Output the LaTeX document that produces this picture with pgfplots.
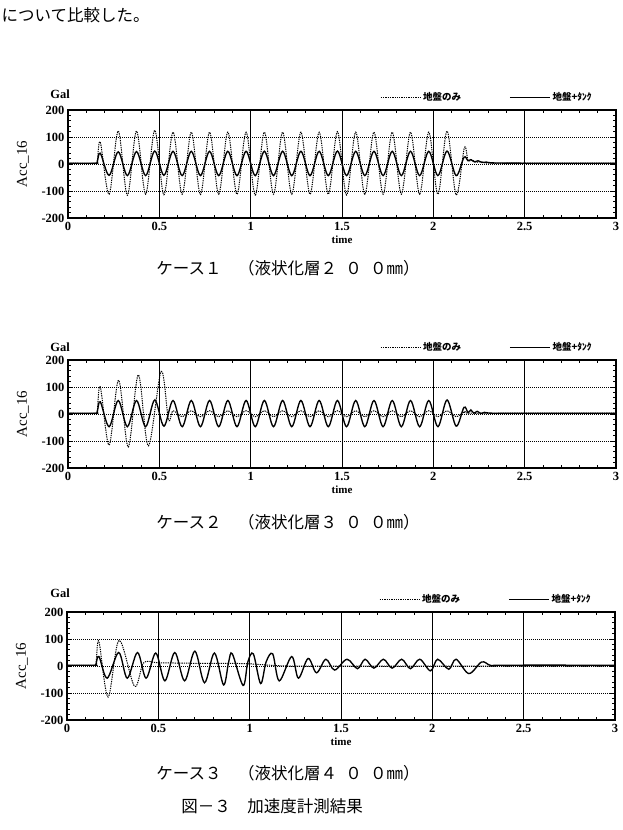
\documentclass[border=0pt]{standalone}
\usepackage{fontspec}
\setmainfont{Liberation Serif}
\newfontfamily\jp{Noto Sans CJK JP}
\usepackage{pgfplots}
\pgfplotsset{compat=1.18}
\pgfplotsset{
  myaxis/.style={
    scale only axis, width=548pt, height=108pt,
    xmin=0, xmax=3, ymin=-200, ymax=200,
    xtick={0,0.5,1,1.5,2,2.5,3}, xticklabels={0,0.5,1,1.5,2,2.5,3},
    ytick={-200,-100,0,100,200}, yticklabels={-200,-100,0,100,200},
    minor x tick num=4, minor y tick num=4,
    tick align=inside, tick pos=both,
    major tick length=5pt, minor tick length=3pt,
    xmajorgrids, ymajorgrids,
    x grid style={black, line width=1pt},
    y grid style={black, dash pattern=on 0.9pt off 1.1pt, line width=0.7pt},
    axis line style={line width=1.1pt},
    tick style={black, line width=0.8pt},
    tick label style={font=\bfseries\fontsize{12.5}{12.5}\selectfont},
    xticklabel style={yshift=-1pt},
    xlabel={time}, xlabel style={font=\bfseries\fontsize{11}{11}\selectfont, yshift=2pt},
    ylabel={Acc\_16}, ylabel style={font=\fontsize{15}{15}\selectfont, yshift=6pt},
    legend style={draw=none, fill=none, at={(0.965,1.035)}, anchor=south east, legend columns=2,
      font=\jp\bfseries\fontsize{9.5}{9.5}\selectfont,
      /tikz/every even column/.append style={column sep=46pt}},
    legend image code/.code={\draw[##1, smooth=false] (0pt,0pt) -- (40pt,0pt);},
  },
  dotser/.style={black, line width=1pt, dash pattern=on 1.3pt off 1pt, smooth, tension=0.55},
  solser/.style={black, line width=1.35pt, smooth, tension=0.55},
}
\begin{document}
\begin{tikzpicture}
\useasboundingbox (0,0) rectangle (623pt,830pt);
\node[anchor=west, font=\jp\fontsize{16.5}{16.5}\selectfont] at (-2pt,815pt) {について比較した。};

% ---------- Case 1 ----------
\begin{axis}[myaxis, at={(68pt,612pt)}, anchor=south west]
\addplot[dotser] coordinates {(0,3)(0.15,3)(0.16,8)(0.177,80)(0.225,-112)(0.275,122)(0.325,-116)(0.375,122)(0.425,-112)(0.475,125)(0.525,-114)(0.575,118)(0.625,-112)(0.675,118)(0.725,-113)(0.775,118)(0.825,-112)(0.875,118)(0.925,-112)(0.975,118)(1.025,-115)(1.075,118)(1.125,-112)(1.175,118)(1.225,-112)(1.275,118)(1.325,-112)(1.375,118)(1.425,-112)(1.475,120)(1.525,-115)(1.575,118)(1.625,-112)(1.675,118)(1.725,-112)(1.775,118)(1.825,-112)(1.875,118)(1.925,-112)(1.975,118)(2.025,-112)(2.075,122)(2.125,-115)(2.17,60)(2.19,12)(2.21,16)(2.235,6)(2.26,9)(2.3,3)(2.5,3)(3,3)};
\addlegendentry{地盤のみ}
\addplot[solser] coordinates {(0,3)(0.15,3)(0.16,8)(0.177,40)(0.225,-42)(0.275,45)(0.325,-43)(0.375,46)(0.425,-43)(0.475,48)(0.525,-42)(0.575,47)(0.625,-43)(0.675,47)(0.725,-43)(0.775,47)(0.825,-43)(0.875,47)(0.925,-43)(0.975,47)(1.025,-43)(1.075,47)(1.125,-43)(1.175,47)(1.225,-43)(1.275,47)(1.325,-43)(1.375,47)(1.425,-43)(1.475,48)(1.525,-43)(1.575,47)(1.625,-43)(1.675,47)(1.725,-43)(1.775,47)(1.825,-43)(1.875,47)(1.925,-43)(1.975,47)(2.025,-43)(2.075,48)(2.125,-43)(2.168,25)(2.19,12)(2.205,16)(2.225,8)(2.245,12)(2.265,6)(2.29,7)(2.33,4)(2.5,3)(3,3)};
\addlegendentry{地盤+ﾀﾝｸ}
\end{axis}
\node[font=\bfseries\fontsize{12.5}{12.5}\selectfont] at (60pt,736pt) {Gal};
\node[font=\jp\fontsize{16.5}{16.5}\selectfont] at (288pt,562pt) {ケース１\hspace{1em}（液状化層２\hspace{0.5em}０\hspace{0.5em}０㎜）};

% ---------- Case 2 ----------
\begin{axis}[myaxis, at={(68pt,362pt)}, anchor=south west]
\addplot[dotser] coordinates {(0,3)(0.15,3)(0.16,10)(0.177,100)(0.225,-115)(0.277,125)(0.33,-122)(0.385,145)(0.44,-118)(0.51,158)(0.55,-20)(0.575,12)(0.625,-10)(0.675,12)(0.725,-10)(0.775,12)(0.825,-10)(0.875,12)(0.925,-10)(0.975,12)(1.025,-10)(1.075,12)(1.125,-10)(1.175,12)(1.225,-10)(1.275,12)(1.325,-10)(1.375,12)(1.425,-10)(1.475,12)(1.525,-10)(1.575,12)(1.625,-10)(1.675,12)(1.725,-10)(1.775,12)(1.825,-10)(1.875,12)(1.925,-10)(1.975,12)(2.025,-10)(2.075,12)(2.125,-10)(2.17,8)(2.2,3)(2.5,3)(3,3)};
\addlegendentry{地盤のみ}
\addplot[solser] coordinates {(0,3)(0.15,3)(0.16,8)(0.177,45)(0.225,-47)(0.275,50)(0.325,-47)(0.375,50)(0.425,-47)(0.475,52)(0.525,-45)(0.575,50)(0.625,-47)(0.675,50)(0.725,-47)(0.775,50)(0.825,-47)(0.875,50)(0.925,-47)(0.975,50)(1.025,-47)(1.075,50)(1.125,-47)(1.175,50)(1.225,-47)(1.275,50)(1.325,-47)(1.375,50)(1.425,-47)(1.475,50)(1.525,-47)(1.575,50)(1.625,-47)(1.675,50)(1.725,-47)(1.775,50)(1.825,-47)(1.875,50)(1.925,-47)(1.975,50)(2.025,-47)(2.075,52)(2.125,-45)(2.168,25)(2.19,5)(2.205,15)(2.222,3)(2.24,10)(2.26,2)(2.28,6)(2.32,3)(2.5,3)(3,3)};
\addlegendentry{地盤+ﾀﾝｸ}
\end{axis}
\node[font=\bfseries\fontsize{12.5}{12.5}\selectfont] at (60pt,483pt) {Gal};
\node[font=\jp\fontsize{16.5}{16.5}\selectfont] at (288pt,308pt) {ケース２\hspace{1em}（液状化層３\hspace{0.5em}０\hspace{0.5em}０㎜）};

% ---------- Case 3 ----------
\begin{axis}[myaxis, at={(67pt,110pt)}, anchor=south west]
\addplot[dotser] coordinates {(0,3)(0.15,3)(0.16,20)(0.175,90)(0.225,-115)(0.285,95)(0.37,-75)(0.42,12)(0.5,12)(0.7,10)(0.9,10)(1.0,8)(1.2,0)(1.5,0)(2.3,0)(3,0)};
\addlegendentry{地盤のみ}
\addplot[solser] coordinates {(0,3)(0.15,3)(0.158,6)(0.175,35)(0.22,-45)(0.283,50)(0.33,-45)(0.386,50)(0.433,-45)(0.486,48)(0.536,-55)(0.59,50)(0.644,-55)(0.70,55)(0.753,-62)(0.807,48)(0.857,-70)(0.885,15)(0.905,45)(0.964,-72)(0.99,15)(1.02,45)(1.06,-65)(1.09,15)(1.126,45)(1.162,-55)(1.23,35)(1.267,-45)(1.32,28)(1.366,-25)(1.417,25)(1.465,-15)(1.533,25)(1.59,-10)(1.632,25)(1.68,-8)(1.732,25)(1.78,-8)(1.832,25)(1.88,-10)(1.931,25)(1.99,-18)(2.029,25)(2.09,-12)(2.13,25)(2.20,-28)(2.27,15)(2.32,2)(2.4,3)(3,3)};
\addlegendentry{地盤+ﾀﾝｸ}
\end{axis}
\node[font=\bfseries\fontsize{12.5}{12.5}\selectfont] at (60pt,237pt) {Gal};
\node[font=\jp\fontsize{16.5}{16.5}\selectfont] at (288pt,57pt) {ケース３\hspace{1em}（液状化層４\hspace{0.5em}０\hspace{0.5em}０㎜）};
\node[font=\jp\fontsize{16.5}{16.5}\selectfont] at (272pt,24pt) {図－３\hspace{1em}加速度計測結果};
\end{tikzpicture}
\end{document}
